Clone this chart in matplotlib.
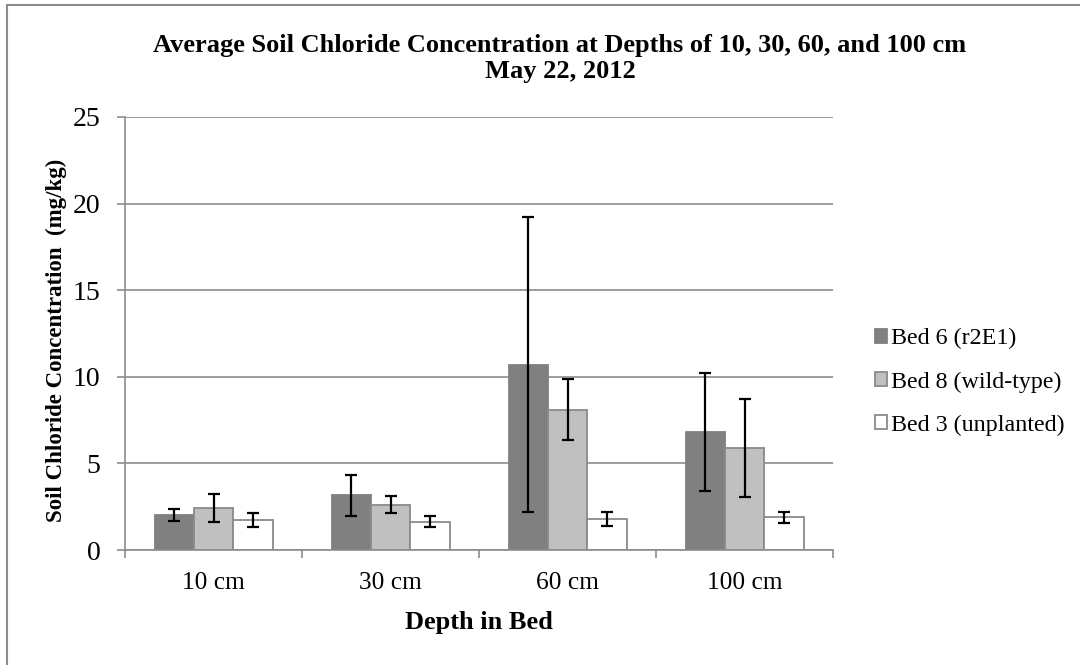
import numpy as np
import matplotlib
matplotlib.use("Agg")
import matplotlib.pyplot as plt
from matplotlib.patches import Rectangle, Patch

plt.rcParams["font.family"] = ["Liberation Serif", "DejaVu Serif"]

depths = ["10 cm", "30 cm", "60 cm", "100 cm"]
labels = ["Bed 6 (r2E1)", "Bed 8 (wild-type)", "Bed 3 (unplanted)"]

bed6 = [2.03, 3.16, 10.7, 6.82]
bed8 = [2.40, 2.62, 8.1, 5.89]
bed3 = [1.72, 1.63, 1.80, 1.88]

err6 = [0.33, 1.17, 8.5, 3.42]
err8 = [0.81, 0.51, 1.77, 2.81]
err3 = [0.39, 0.31, 0.42, 0.30]

faces = ["#808080", "#c0c0c0", "#ffffff"]
edges = ["#808080", "#8a8a8a", "#8a8a8a"]
grid_c = "#8c8c8c"

W, H = 1080, 665
fig = plt.figure(figsize=(W / 100, H / 100), dpi=100)
ax = fig.add_axes([125 / W, 1 - 550 / H, (833 - 125) / W, (550 - 117) / H])

x = np.arange(len(depths))
bw = 1 / 4.5
for i, (vals, errs) in enumerate([(bed6, err6), (bed8, err8), (bed3, err3)]):
    pos = x + (i - 1) * bw
    ax.bar(pos, vals, width=bw, color=faces[i], edgecolor=edges[i],
           linewidth=1.3, zorder=2)
    ax.errorbar(pos, vals, yerr=errs, fmt="none", ecolor="black",
                elinewidth=1.6, capsize=4.3, capthick=1.6, zorder=3)

ax.set_xlim(-0.5, 3.5)
ax.set_ylim(0, 25)
ax.set_yticks(range(0, 26, 5))
ax.yaxis.grid(True, color=grid_c, linewidth=1.2, zorder=0)
ax.set_axisbelow(True)

ax.set_xticks(x)
ax.set_xticklabels(depths, fontsize=18.3)
ax.set_xticks(np.arange(-0.5, 3.6, 1), minor=True)
ax.tick_params(axis="x", which="major", length=0, pad=16)
ax.tick_params(axis="x", which="minor", length=6, color=grid_c, width=1.2)
ax.tick_params(axis="y", length=5.8, color=grid_c, width=1.2, labelsize=20, pad=12)

for s in ["top", "right"]:
    ax.spines[s].set_visible(False)
for s in ["left", "bottom"]:
    ax.spines[s].set_color(grid_c)
    ax.spines[s].set_linewidth(1.2)

ax.set_xlabel("Depth in Bed", fontsize=19, fontweight="bold", labelpad=12)
ax.set_ylabel("Soil Chloride Concentration  (mg/kg)", fontsize=16.5,
              fontweight="bold")
ax.yaxis.set_label_coords(-0.082, 0.483)

fig.text(560 / W, 1 - 58.5 / H,
         "Average Soil Chloride Concentration at Depths of 10, 30, 60, and 100 cm\nMay 22, 2012",
         ha="center", va="center", fontsize=19, fontweight="bold",
         linespacing=1.22)

handles = [Patch(facecolor=faces[i], edgecolor=edges[i], linewidth=1.3)
           for i in range(3)]
fig.legend(handles, labels, loc="center left",
           bbox_to_anchor=(875 / W, 1 - 382 / H), frameon=False,
           borderpad=0, borderaxespad=0,
           fontsize=17.3, handlelength=0.5, handleheight=0.5,
           handletextpad=0.15, labelspacing=0.92)

fig.patches.append(Rectangle((6.5 / W, -0.1), 1.2, (1 - 5 / H) + 0.1,
                             transform=fig.transFigure, fill=False,
                             edgecolor="#8c8c8c", linewidth=1.5))

fig.savefig("out.png", dpi=100)
